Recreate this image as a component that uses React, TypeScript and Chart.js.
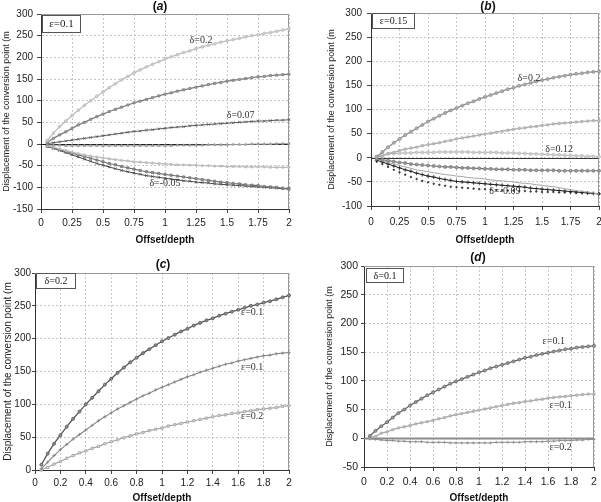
import React, { useEffect, useRef } from "react";
import { Chart, registerables } from "chart.js";

Chart.register(...registerables);

const SANS = "'Liberation Sans', Arial, Helvetica, sans-serif";
const SERIF = "'Liberation Serif', 'Times New Roman', serif";

// Offset/depth sample positions shared by every curve
const offsetDepth = [
  0.05, 0.1, 0.15, 0.2, 0.25, 0.3, 0.35, 0.4, 0.45, 0.5,
  0.55, 0.6, 0.65, 0.7, 0.75, 0.8, 0.85, 0.9, 0.95, 1,
  1.05, 1.1, 1.15, 1.2, 1.25, 1.3, 1.35, 1.4, 1.45, 1.5,
  1.55, 1.6, 1.65, 1.7, 1.75, 1.8, 1.85, 1.9, 1.95, 2,
];

// Axis ticks
const xTicksQuarter = [0, 0.25, 0.5, 0.75, 1, 1.25, 1.5, 1.75, 2];
const xLabelsQuarter = ["0", "0.25", "0.5", "0.75", "1", "1.25", "1.5", "1.75", "2"];
const xTicksFifth = [0, 0.2, 0.4, 0.6, 0.8, 1, 1.2, 1.4, 1.6, 1.8, 2];
const xLabelsFifth = ["0", "0.2", "0.4", "0.6", "0.8", "1", "1.2", "1.4", "1.6", "1.8", "2"];
const yTicksA = [-150, -100, -50, 0, 50, 100, 150, 200, 250, 300];
const yTicksB = [-100, -50, 0, 50, 100, 150, 200, 250, 300];
const yTicksC = [0, 50, 100, 150, 200, 250, 300];
const yTicksD = [-50, 0, 50, 100, 150, 200, 250, 300];

// Displacement of the conversion point (m)
const eps010Delta020 = [
  8, 25, 40, 53, 66, 78, 89, 100, 110, 120,
  130, 139, 148, 156, 164, 171, 178, 184, 190, 196,
  201, 206, 211, 215, 220, 224, 228, 231, 235, 238,
  241, 244, 247, 250, 252, 255, 257, 260, 263, 266,
];
const eps010Delta010 = [
  4, 13, 21, 28, 36, 44, 50, 57, 63, 69,
  75, 80, 85, 90, 95, 99, 103, 107, 111, 115,
  118, 122, 125, 128, 131, 134, 137, 140, 142, 145,
  147, 149, 151, 153, 155, 156, 158, 159, 160, 161,
];
const eps010Delta007 = [
  1, 3, 5, 7, 9, 11, 13, 15, 17, 19,
  21, 23, 25, 27, 29, 30, 32, 33, 35, 36,
  38, 39, 40, 42, 43, 44, 45, 46, 47, 48,
  49, 50, 51, 52, 53, 53, 54, 55, 55, 56,
];
const eps010Near0 = [
  -2, -3, -3, -4, -4, -4, -4, -4, -4, -4,
  -4, -4, -4, -4, -4, -4, -4, -4, -4, -4,
  -4, -3, -3, -3, -3, -3, -2, -2, -2, -2,
  -1, -1, -1, 0, 0, 0, 0, 1, 1, 1,
];
const eps010Neg1 = [
  -4, -7, -11, -15, -19, -22, -25, -28, -30, -32,
  -34, -36, -38, -39, -41, -42, -43, -44, -45, -46,
  -47, -48, -48, -49, -49, -50, -50, -51, -51, -52,
  -52, -52, -53, -53, -53, -53, -54, -54, -54, -54,
];
const eps010Neg2 = [
  -5, -9, -13, -17, -21, -25, -29, -33, -37, -41,
  -45, -48, -52, -55, -58, -61, -64, -66, -68, -70,
  -72, -74, -76, -78, -80, -82, -84, -86, -88, -89,
  -91, -92, -94, -95, -96, -98, -99, -100, -102, -103,
];
const eps010DeltaM005 = [
  -6, -10, -15, -20, -25, -30, -35, -40, -45, -49,
  -53, -57, -61, -64, -67, -70, -73, -75, -77, -79,
  -81, -83, -85, -86, -88, -89, -90, -92, -93, -94,
  -95, -96, -97, -98, -99, -100, -101, -102, -103, -104,
];

const eps015Delta020 = [
  2, 12, 22, 31, 39, 47, 54, 61, 68, 75,
  81, 87, 93, 98, 103, 108, 113, 117, 122, 126,
  130, 134, 138, 142, 145, 149, 152, 155, 158, 161,
  163, 166, 168, 170, 172, 174, 175, 177, 178, 179,
];
const eps015Delta010 = [
  2, 3, 9, 11, 15, 18, 20, 22, 25, 27,
  29, 31, 34, 36, 39, 41, 43, 45, 47, 49,
  51, 53, 55, 57, 59, 61, 62, 64, 65, 67,
  68, 70, 71, 72, 73, 74, 75, 76, 77, 77,
];
const eps015Delta012 = [
  2, 6, 8, 9, 9, 10, 10, 11, 11, 11,
  11, 12, 12, 12, 12, 12, 12, 11, 11, 11,
  11, 11, 10, 10, 10, 9, 9, 8, 8, 7,
  7, 6, 6, 5, 5, 4, 4, 3, 3, 2,
];
const eps015Neg1 = [
  -2, -4, -6, -8, -10, -11, -13, -14, -15, -16,
  -17, -18, -19, -19, -20, -21, -21, -22, -22, -23,
  -23, -24, -24, -24, -25, -25, -25, -26, -26, -26,
  -26, -26, -27, -27, -27, -27, -27, -27, -27, -27,
];
const eps015Neg2 = [
  -3, -6, -10, -13, -16, -19, -22, -25, -27, -29,
  -31, -33, -35, -36, -38, -39, -41, -42, -43, -44,
  -46, -47, -48, -49, -50, -52, -53, -54, -56, -57,
  -59, -60, -62, -64, -66, -68, -70, -71, -73, -75,
];
const eps015Neg3 = [
  -5, -9, -13, -17, -21, -25, -28, -32, -35, -38,
  -40, -43, -45, -47, -49, -50, -51, -52, -53, -54,
  -55, -56, -57, -58, -59, -60, -61, -63, -64, -65,
  -66, -67, -68, -69, -70, -71, -72, -73, -74, -75,
];
const eps015DeltaM009 = [
  -8, -13, -19, -25, -30, -35, -40, -44, -48, -51,
  -54, -56, -58, -60, -61, -62, -63, -64, -65, -65,
  -66, -67, -67, -68, -68, -69, -69, -70, -70, -71,
  -71, -71, -72, -72, -72, -73, -73, -73, -74, -74,
];

const eps020Delta020 = [
  0, 4, 9, 13, 18, 22, 26, 29, 33, 36,
  40, 43, 46, 49, 52, 55, 57, 60, 62, 64,
  67, 69, 71, 73, 75, 77, 79, 81, 83, 84,
  86, 87, 89, 90, 92, 93, 94, 95, 97, 98,
];
const eps020Delta010 = [
  -1, -2, -3, -4, -4, -5, -5, -6, -6, -6,
  -7, -7, -7, -7, -8, -8, -8, -8, -8, -8,
  -8, -8, -7, -7, -7, -7, -7, -6, -6, -6,
  -6, -5, -5, -4, -4, -4, -3, -3, -2, -2,
];

type Curve = {
  name: string;
  values: number[];
  color: string;
  point: string;
  radius: number;
  fill?: string;
  width?: number;
  showLine?: boolean;
};
type Note = { text: string; x: number; y: number };
type Box = { x: number; y: number; w: number; h: number; text: string; size: number };

type PanelSpec = {
  letter: string;
  left: number;
  top: number;
  w: number;
  h: number;
  pad: { left: number; right: number; top: number; bottom: number };
  yAxisW: number;
  xAxisH: number;
  yMin: number;
  yMax: number;
  yTicks: number[];
  xTicks: number[];
  xLabels: string[];
  tickFont: number;
  yTickLen: number;
  yTickPad: number;
  xTickPad: number;
  yTitleSize: number;
  yTitlePad: number;
  xTitlePad: number;
  titleAt: [number, number];
  box: Box;
  notes: Note[];
  zero?: { color: string; width: number };
  curves: Curve[];
};

const panels: PanelSpec[] = [
  {
    letter: "a", left: 0, top: 0, w: 300, h: 250,
    pad: { left: 0, right: 11, top: 14, bottom: 0 }, yAxisW: 41, xAxisH: 41,
    yMin: -150, yMax: 300, yTicks: yTicksA, xTicks: xTicksQuarter, xLabels: xLabelsQuarter,
    tickFont: 10, yTickLen: 4, yTickPad: 4, xTickPad: 4,
    yTitleSize: 9, yTitlePad: 1.6, xTitlePad: 4, titleAt: [160, 7],
    box: { x: 42, y: 15, w: 39, h: 18, text: "ε=0.1", size: 11 },
    notes: [
      { text: "δ=0.2", x: 1.29, y: 240 },
      { text: "δ=0.07", x: 1.61, y: 65 },
      { text: "δ=-0.05", x: 1.0, y: -90 },
    ],
    zero: { color: "#222", width: 1 },
    curves: [
      { name: "δ=0.2", values: eps010Delta020, color: "#bdbdbd", point: "circle", radius: 1.4, fill: "#cfcfcf", width: 1.3 },
      { name: "δ=0.1", values: eps010Delta010, color: "#7e7e7e", point: "rect", radius: 1.5, fill: "#a8a8a8", width: 1.3 },
      { name: "δ=0.07", values: eps010Delta007, color: "#5a5a5a", point: "crossRot", radius: 1.8, width: 1 },
      { name: "near zero", values: eps010Near0, color: "#a0a0a0", point: "triangle", radius: 1.5, width: 1 },
      { name: "negative 1", values: eps010Neg1, color: "#bdbdbd", point: "circle", radius: 1.1, width: 1.3 },
      { name: "negative 2", values: eps010Neg2, color: "#6e6e6e", point: "rect", radius: 1.5, fill: "#999", width: 1.1 },
      { name: "δ=-0.05", values: eps010DeltaM005, color: "#474747", point: "crossRot", radius: 1.8, width: 1 },
    ],
  },
  {
    letter: "b", left: 300, top: 0, w: 311, h: 250,
    pad: { left: 0, right: 12, top: 13, bottom: 0 }, yAxisW: 71, xAxisH: 44,
    yMin: -100, yMax: 300, yTicks: yTicksB, xTicks: xTicksQuarter, xLabels: xLabelsQuarter,
    tickFont: 10, yTickLen: 4, yTickPad: 5, xTickPad: 6,
    yTitleSize: 9, yTitlePad: 26.6, xTitlePad: 4, titleAt: [188, 7],
    box: { x: 72, y: 13, w: 43, h: 16, text: "ε=0.15", size: 10 },
    notes: [
      { text: "δ=0.2", x: 1.386, y: 165 },
      { text: "δ=0.12", x: 1.65, y: 18 },
      { text: "δ=-0.09", x: 1.175, y: -69 },
    ],
    zero: { color: "#333", width: 1 },
    curves: [
      { name: "δ=0.2", values: eps015Delta020, color: "#8e8e8e", point: "circle", radius: 1.5, fill: "#b0b0b0", width: 1.3 },
      { name: "δ=0.1", values: eps015Delta010, color: "#acacac", point: "rect", radius: 1.5, fill: "#c4c4c4", width: 1.3 },
      { name: "δ=0.12", values: eps015Delta012, color: "#bdbdbd", point: "circle", radius: 1.5, fill: "#d0d0d0", width: 1.3 },
      { name: "negative 1", values: eps015Neg1, color: "#747474", point: "circle", radius: 1.5, fill: "#a0a0a0", width: 1.1 },
      { name: "negative 2", values: eps015Neg2, color: "#a6a6a6", point: "circle", radius: 0, width: 1 },
      { name: "negative 3", values: eps015Neg3, color: "#222", point: "cross", radius: 2, width: 1 },
      { name: "δ=-0.09", values: eps015DeltaM009, color: "#333", point: "circle", radius: 0.8, fill: "#333", showLine: false },
    ],
  },
  {
    letter: "c", left: 0, top: 250, w: 300, h: 260,
    pad: { left: 0, right: 11, top: 23, bottom: 0 }, yAxisW: 35, xAxisH: 40,
    yMin: 0, yMax: 300, yTicks: yTicksC, xTicks: xTicksFifth, xLabels: xLabelsFifth,
    tickFont: 10, yTickLen: 3, yTickPad: 1, xTickPad: 3,
    yTitleSize: 10, yTitlePad: 2, xTitlePad: 6, titleAt: [163, 15],
    box: { x: 36, y: 23, w: 40, h: 16, text: "δ=0.2", size: 10 },
    notes: [
      { text: "ε=0.1", x: 1.71, y: 240 },
      { text: "ε=0.1", x: 1.71, y: 157 },
      { text: "ε=0.2", x: 1.71, y: 81 },
    ],
    curves: [
      { name: "ε=0.1", values: eps010Delta020, color: "#555", point: "circle", radius: 1.5, fill: "#909090", width: 1.3 },
      { name: "ε=0.15", values: eps015Delta020, color: "#858585", point: "cross", radius: 1.7, width: 1.1 },
      { name: "ε=0.2", values: eps020Delta020, color: "#9e9e9e", point: "rect", radius: 1.6, fill: "#e2e2e2", width: 1.1 },
    ],
  },
  {
    letter: "d", left: 300, top: 250, w: 311, h: 260,
    pad: { left: 0, right: 17, top: 16, bottom: 0 }, yAxisW: 64, xAxisH: 43,
    yMin: -50, yMax: 300, yTicks: yTicksD, xTicks: xTicksFifth, xLabels: xLabelsFifth,
    tickFont: 10.5, yTickLen: 3, yTickPad: 3, xTickPad: 5,
    yTitleSize: 9, yTitlePad: 24.6, xTitlePad: 6, titleAt: [178, 8],
    box: { x: 66, y: 18, w: 38, h: 15, text: "δ=0.1", size: 10 },
    notes: [
      { text: "ε=0.1", x: 1.65, y: 169 },
      { text: "ε=0.1", x: 1.71, y: 58 },
      { text: "ε=0.2", x: 1.71, y: -15 },
    ],
    zero: { color: "#8c8c8c", width: 2 },
    curves: [
      { name: "ε=0.1", values: eps010Delta010, color: "#646464", point: "circle", radius: 1.5, fill: "#a0a0a0", width: 1.3 },
      { name: "ε=0.15", values: eps015Delta010, color: "#a9a9a9", point: "rect", radius: 1.5, fill: "#c4c4c4", width: 1.3 },
      { name: "ε=0.2", values: eps020Delta010, color: "#8e8e8e", point: "cross", radius: 1.5, width: 1 },
    ],
  },
];

function decorPlugin(p: PanelSpec) {
  return {
    id: "panelDecor",
    beforeDatasetsDraw(chart: any) {
      const { ctx, chartArea: a, scales } = chart;
      ctx.save();
      ctx.strokeStyle = "#999";
      ctx.lineWidth = 1;
      ctx.beginPath();
      ctx.moveTo(a.left, a.top + 0.5);
      ctx.lineTo(a.right - 0.5, a.top + 0.5);
      ctx.lineTo(a.right - 0.5, a.bottom);
      ctx.stroke();
      if (p.zero) {
        const y0 = Math.round(scales.y.getPixelForValue(0)) + 0.5;
        ctx.strokeStyle = p.zero.color;
        ctx.lineWidth = p.zero.width;
        ctx.beginPath();
        ctx.moveTo(a.left, y0);
        ctx.lineTo(a.right, y0);
        ctx.stroke();
      }
      ctx.restore();
    },
    afterDraw(chart: any) {
      const { ctx, scales } = chart;
      ctx.save();
      // panel letter: "(" + italic letter + ")"
      const parts: [string, string][] = [
        ["(", `bold 12px ${SANS}`],
        [p.letter, `italic bold 12px ${SANS}`],
        [")", `bold 12px ${SANS}`],
      ];
      let total = 0;
      for (const [t, f] of parts) {
        ctx.font = f;
        total += ctx.measureText(t).width;
      }
      let cx = p.titleAt[0] - total / 2;
      ctx.fillStyle = "#111";
      ctx.textBaseline = "middle";
      ctx.textAlign = "left";
      for (const [t, f] of parts) {
        ctx.font = f;
        ctx.fillText(t, cx, p.titleAt[1]);
        cx += ctx.measureText(t).width;
      }
      // boxed parameter label
      const b = p.box;
      ctx.fillStyle = "#fff";
      ctx.fillRect(b.x, b.y, b.w, b.h);
      ctx.strokeStyle = "#555";
      ctx.lineWidth = 1;
      ctx.strokeRect(b.x + 0.5, b.y + 0.5, b.w - 1, b.h - 1);
      ctx.fillStyle = "#222";
      ctx.font = `${b.size}px ${SERIF}`;
      ctx.textAlign = "center";
      ctx.fillText(b.text, b.x + b.w / 2, b.y + b.h / 2 + 0.5);
      // curve labels
      ctx.font = `10px ${SERIF}`;
      ctx.fillStyle = "#333";
      for (const n of p.notes) {
        ctx.fillText(n.text, scales.x.getPixelForValue(n.x), scales.y.getPixelForValue(n.y));
      }
      ctx.restore();
    },
  };
}

function Panel({ spec }: { spec: PanelSpec }) {
  const ref = useRef<HTMLCanvasElement>(null);
  useEffect(() => {
    const p = spec;
    const chart = new Chart(ref.current as HTMLCanvasElement, {
      type: "line",
      data: {
        datasets: p.curves.map((c) => ({
          label: c.name,
          data: offsetDepth.map((x, i) => ({ x, y: c.values[i] })),
          borderColor: c.color,
          borderWidth: c.width ?? 1,
          showLine: c.showLine ?? true,
          pointStyle: c.point as any,
          pointRadius: c.radius,
          pointBorderWidth: 0.8,
          pointBorderColor: c.color,
          pointBackgroundColor: c.fill ?? c.color,
          tension: 0,
          fill: false,
          clip: 5,
        })),
      },
      options: {
        animation: false,
        responsive: false,
        events: [],
        layout: { padding: p.pad },
        plugins: { legend: { display: false }, tooltip: { enabled: false } },
        scales: {
          x: {
            type: "linear",
            min: 0,
            max: 2,
            afterBuildTicks: (s: any) => {
              s.ticks = p.xTicks.map((v) => ({ value: v }));
            },
            afterFit: (s: any) => {
              s.height = p.xAxisH;
            },
            ticks: {
              autoSkip: false,
              maxRotation: 0,
              padding: p.xTickPad,
              color: "#222",
              font: { family: SANS, size: p.tickFont },
              callback: (_v: any, i: number) => p.xLabels[i],
            },
            grid: { color: "#c6c6c6", lineWidth: 1, tickLength: 4, tickColor: "#444" },
            border: { display: true, color: "#333", width: 1, dash: [2, 2] },
            title: {
              display: true,
              text: "Offset/depth",
              color: "#111",
              font: { family: SANS, size: 10, weight: "bold" },
              padding: { top: 0, bottom: p.xTitlePad },
            },
          },
          y: {
            type: "linear",
            min: p.yMin,
            max: p.yMax,
            afterBuildTicks: (s: any) => {
              s.ticks = p.yTicks.map((v) => ({ value: v }));
            },
            afterFit: (s: any) => {
              s.width = p.yAxisW;
            },
            ticks: {
              padding: p.yTickPad,
              color: "#222",
              font: { family: SANS, size: p.tickFont },
              callback: (v: any) => String(v),
            },
            grid: { color: "#c6c6c6", lineWidth: 1, tickLength: p.yTickLen, tickColor: "#444" },
            border: { display: true, color: "#333", width: 1, dash: [2, 2] },
            title: {
              display: true,
              text: "Displacement of the conversion point (m",
              color: "#222",
              font: { family: SANS, size: p.yTitleSize },
              padding: { top: p.yTitlePad, bottom: 0 },
            },
          },
        },
      } as any,
      plugins: [decorPlugin(p)],
    });
    return () => chart.destroy();
  }, [spec]);
  return (
    <canvas
      ref={ref}
      width={spec.w}
      height={spec.h}
      style={{ position: "absolute", left: spec.left, top: spec.top, width: spec.w, height: spec.h }}
    />
  );
}

export default function App() {
  return (
    <div
      style={{
        position: "fixed",
        left: 0,
        top: 0,
        width: 601,
        height: 502,
        overflow: "hidden",
        background: "#fff",
      }}
    >
      {panels.map((p) => (
        <Panel key={p.letter} spec={p} />
      ))}
    </div>
  );
}
